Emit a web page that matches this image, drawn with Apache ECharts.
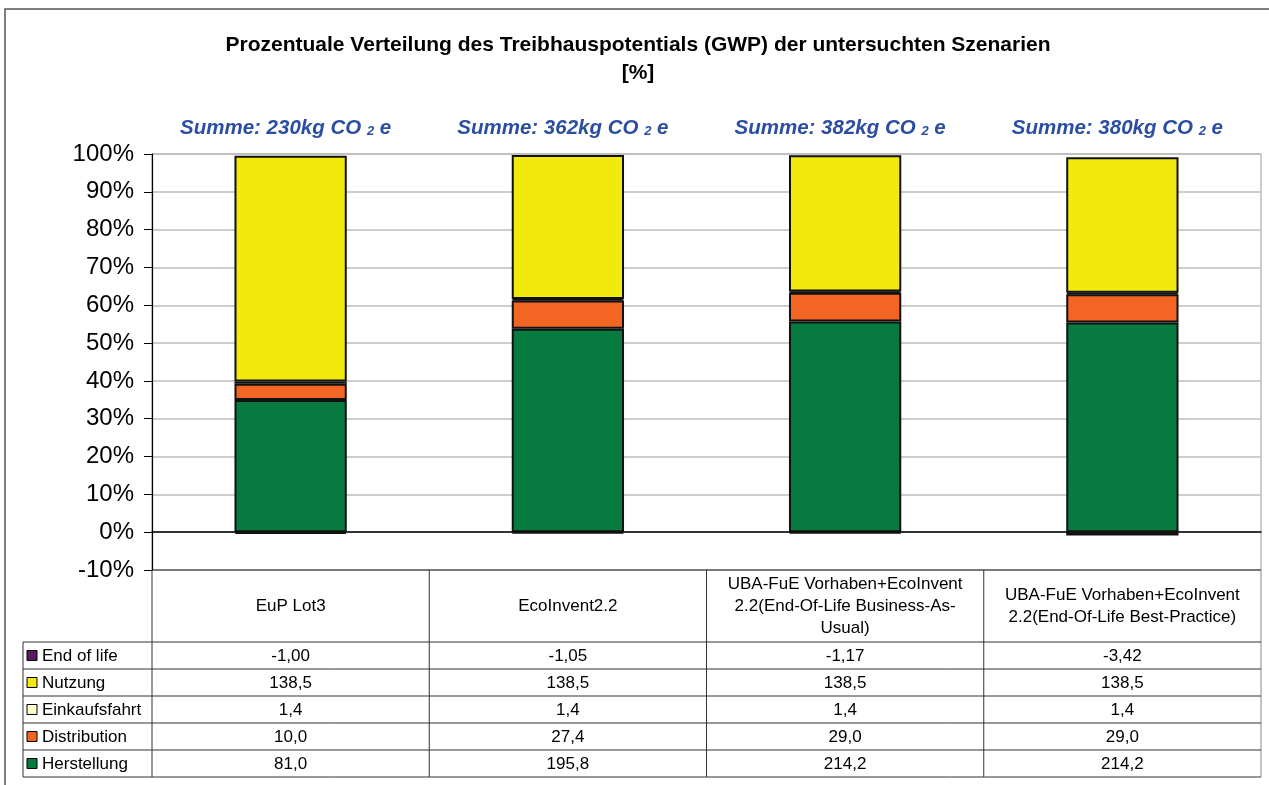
<!DOCTYPE html>
<html>
<head>
<meta charset="utf-8">
<script src="https://cdn.jsdelivr.net/npm/echarts@6/dist/echarts.min.js"></script>
<style>
  html, body { margin: 0; padding: 0; background: #fff; }
  #chart { width: 1269px; height: 785px; }
</style>
</head>
<body>
<div id="chart"></div>
<script>
// scenarios (table header labels, Excel wrapped them like this)
const categories = [
  'EuP Lot3',
  'EcoInvent2.2',
  'UBA-FuE Vorhaben+EcoInvent\n2.2(End-Of-Life Business-As-\nUsual)',
  'UBA-FuE Vorhaben+EcoInvent\n2.2(End-Of-Life Best-Practice)'
];

// kg CO2e per life cycle phase
const herstellung   = [81.0, 195.8, 214.2, 214.2];
const distribution  = [10.0, 27.4, 29.0, 29.0];
const einkaufsfahrt = [1.4, 1.4, 1.4, 1.4];
const nutzung       = [138.5, 138.5, 138.5, 138.5];
const endOfLife     = [-1.00, -1.05, -1.17, -3.42];

const yMin = -10;
const yMax = 100;
const yStep = 10;

const FONT = '"Liberation Sans", Arial, sans-serif';

// stacking order bottom -> top
const phases = [
  { name: 'Herstellung',   data: herstellung,   color: '#077A3F', digits: 1 },
  { name: 'Distribution',  data: distribution,  color: '#F26522', digits: 1 },
  { name: 'Einkaufsfahrt', data: einkaufsfahrt, color: '#FFFFCC', digits: 1 },
  { name: 'Nutzung',       data: nutzung,       color: '#F2EA0D', digits: 1 },
  { name: 'End of life',   data: endOfLife,     color: '#5A1A5E', digits: 2 }
];

// Excel 100% stacked: share of the sum of absolute values
const absSum = categories.map((c, i) =>
  phases.reduce((s, p) => s + Math.abs(p.data[i]), 0));
const netSum = categories.map((c, i) =>
  phases.reduce((s, p) => s + p.data[i], 0));

const chart = echarts.init(document.getElementById('chart'));

chart.setOption({
  animation: false,
  grid: { left: 152, right: 8, top: 154, bottom: 215, show: true, borderColor: '#999', borderWidth: 1 },
  xAxis: {
    type: 'category',
    data: categories,
    axisLine: { onZero: true, lineStyle: { color: '#000', width: 1.5 } },
    axisTick: { show: false },
    axisLabel: { show: false }
  },
  yAxis: {
    type: 'value',
    min: yMin,
    max: yMax,
    interval: yStep,
    axisLine: { show: true, lineStyle: { color: '#000', width: 1.2 } },
    axisTick: { show: true, length: 8, lineStyle: { color: '#000' } },
    axisLabel: { formatter: '{value}%', fontSize: 24, color: '#000', fontFamily: FONT, margin: 18 },
    splitLine: { lineStyle: { color: '#BDBDBD', width: 1.5 } }
  },
  series: phases.map(p => ({
    name: p.name,
    type: 'bar',
    stack: 'total',
    barWidth: '40.5%',
    itemStyle: { color: p.color, borderColor: '#111', borderWidth: 2 },
    data: p.data.map((v, i) => 100 * v / absSum[i])
  }))
});

// title, sum labels and data table
const g = [];
const cx = categories.map((c, i) => chart.convertToPixel({ xAxisIndex: 0 }, i));
const cw = cx[1] - cx[0];
const yBot = chart.convertToPixel({ yAxisIndex: 0 }, yMin);
const xPlotL = cx[0] - cw / 2;
const xPlotR = cx[cx.length - 1] + cw / 2;
const headH = 72;
const rowH = 27;
const tblL = 23;
const lineCol = '#333';

g.push({ type: 'rect', shape: { x: 5, y: 9, width: 1300, height: 820 }, style: { fill: null, stroke: '#555', lineWidth: 1.5 }, silent: true });

g.push({
  type: 'text', x: 638, y: 31,
  style: { text: 'Prozentuale Verteilung des Treibhauspotentials (GWP) der untersuchten Szenarien\n[%]',
    font: 'bold 21px ' + FONT, fill: '#000', align: 'center', lineHeight: 28 }
});

const blue = '#2B4EA2';
cx.forEach((x, i) => {
  g.push({
    type: 'text', x: x - 5, y: 112,
    style: {
      text: '{b|Summe: ' + Math.round(netSum[i]) + 'kg CO }{s|2}{b| e}',
      align: 'center',
      rich: {
        b: { font: 'italic bold 20.5px ' + FONT, fill: blue, lineHeight: 26, verticalAlign: 'bottom' },
        s: { font: 'italic bold 13px ' + FONT, fill: blue, lineHeight: 20, verticalAlign: 'bottom' }
      }
    }
  });
});

// header row
const tblB = yBot + headH + rowH * phases.length;
g.push({ type: 'line', shape: { x1: xPlotL, y1: yBot, x2: xPlotR, y2: yBot }, style: { stroke: lineCol, lineWidth: 1.2 } });
for (let k = 0; k <= categories.length; k++) {
  const x = xPlotL + k * cw;
  g.push({ type: 'line', shape: { x1: x, y1: yBot, x2: x, y2: tblB },
    style: { stroke: k === categories.length ? '#888' : lineCol, lineWidth: 1 } });
}
cx.forEach((x, i) => {
  g.push({ type: 'text', x: x, y: yBot + headH / 2,
    style: { text: categories[i], font: '17px ' + FONT, fill: '#000', align: 'center', verticalAlign: 'middle', lineHeight: 22 } });
});

// data rows, top row = last stacked phase
const rows = phases.slice().reverse();
g.push({ type: 'line', shape: { x1: tblL, y1: yBot + headH, x2: tblL, y2: tblB }, style: { stroke: lineCol, lineWidth: 1 } });
rows.forEach((p, r) => {
  const y0 = yBot + headH + r * rowH;
  g.push({ type: 'line', shape: { x1: tblL, y1: y0, x2: xPlotR, y2: y0 }, style: { stroke: lineCol, lineWidth: 1 } });
  g.push({ type: 'rect', shape: { x: tblL + 4, y: y0 + rowH / 2 - 5, width: 10, height: 10 },
    style: { fill: p.color, stroke: '#000', lineWidth: 1 } });
  g.push({ type: 'text', x: tblL + 19, y: y0 + rowH / 2 + 1,
    style: { text: p.name, font: '17px ' + FONT, fill: '#000', verticalAlign: 'middle' } });
  cx.forEach((x, i) => {
    g.push({ type: 'text', x: x, y: y0 + rowH / 2 + 1,
      style: { text: p.data[i].toFixed(p.digits).replace('.', ','), font: '17px ' + FONT, fill: '#000', align: 'center', verticalAlign: 'middle' } });
  });
});
g.push({ type: 'line', shape: { x1: tblL, y1: tblB, x2: xPlotR, y2: tblB }, style: { stroke: lineCol, lineWidth: 1 } });

chart.setOption({ graphic: g });
</script>
</body>
</html>
